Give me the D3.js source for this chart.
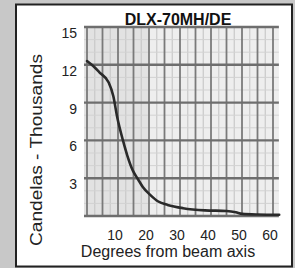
<!DOCTYPE html>
<html>
<head>
<meta charset="utf-8">
<script src="https://cdn.jsdelivr.net/npm/d3@7"></script>
<style>
  body { margin: 0; background: #c8c8c8; }
  svg { display: block; }
</style>
</head>
<body>
<svg></svg>
<script>
// Chart data
const title = "DLX-70MH/DE";
const degrees = [0, 2, 4, 7, 8.5, 9.7, 11.6, 13, 14.8, 16.5, 18, 20.3, 23, 26, 31, 38, 45, 48, 50, 55, 62];
const candelas = [12.3, 11.9, 11.4, 10.6, 9.5, 7.9, 6.0, 4.8, 3.6, 2.9, 2.3, 1.7, 1.15, 0.88, 0.62, 0.45, 0.4, 0.3, 0.17, 0.12, 0.1];
const xTicks = [10, 20, 30, 40, 50, 60];
const yTicks = [3, 6, 9, 12, 15];

const width = 295;
const height = 268;

const svg = d3.select("svg")
    .attr("width", width)
    .attr("height", height);

// Scales
const x = d3.scaleLinear().domain([0, 60]).range([87, 273]);
const y = d3.scaleLinear().domain([0, 15]).range([216, 27]);

// Grey backdrop and white panel
svg.append("rect")
    .attr("width", width)
    .attr("height", height)
    .attr("fill", "#c8c8c8");

svg.append("rect")
    .attr("x", 16)
    .attr("y", 4.5)
    .attr("width", 276)
    .attr("height", 262)
    .attr("fill", "#fff")
    .attr("stroke", "#222")
    .attr("stroke-width", 2);

// Plot paper, a bit darker on the left like the scan
const plotLeft = 84, plotRight = x(61.9);
svg.append("rect")
    .attr("x", plotLeft)
    .attr("y", y(15))
    .attr("width", plotRight - plotLeft)
    .attr("height", y(0) - y(15))
    .attr("fill", "#eeeeee");

svg.append("rect")
    .attr("x", plotLeft)
    .attr("y", y(15))
    .attr("width", x(20) - plotLeft)
    .attr("height", y(0) - y(15))
    .attr("fill", "#e2e2e2");

const grid = svg.append("g");

// faint minor lines
grid.selectAll(".vminor")
    .data(d3.range(2.5, 61, 5))
    .enter().append("line")
    .attr("x1", d => x(d)).attr("x2", d => x(d))
    .attr("y1", y(15)).attr("y2", y(0))
    .attr("stroke", "#c8c8c8")
    .attr("stroke-width", 1.2);

grid.selectAll(".hminor")
    .data(d3.range(1, 15).filter(d => d % 3 !== 0))
    .enter().append("line")
    .attr("x1", plotLeft).attr("x2", plotRight)
    .attr("y1", d => y(d)).attr("y2", d => y(d))
    .attr("stroke", "#d2d2d2")
    .attr("stroke-width", 1);

// main lines
grid.selectAll(".vmajor")
    .data(d3.range(0, 61, 5))
    .enter().append("line")
    .attr("x1", d => x(d)).attr("x2", d => x(d))
    .attr("y1", y(15)).attr("y2", y(0))
    .attr("stroke", "#7a7a7a")
    .attr("stroke-width", 1.8);

grid.selectAll(".hmajor")
    .data(d3.range(0, 16, 3))
    .enter().append("line")
    .attr("x1", plotLeft).attr("x2", plotRight)
    .attr("y1", d => y(d)).attr("y2", d => y(d))
    .attr("stroke", "#6e6e6e")
    .attr("stroke-width", 2.4);

// Candela curve
const line = d3.line()
    .x((d, i) => x(d))
    .y((d, i) => y(candelas[i]))
    .curve(d3.curveMonotoneX);

svg.append("path")
    .datum(degrees)
    .attr("d", line)
    .attr("fill", "none")
    .attr("stroke", "#2a2a2a")
    .attr("stroke-width", 2.6)
    .attr("stroke-linecap", "round");

// Tick labels
const font = "Arial, 'Liberation Sans', sans-serif";

svg.append("g").selectAll("text")
    .data(yTicks)
    .enter().append("text")
    .attr("x", 77)
    .attr("y", d => y(d) + 11)
    .attr("text-anchor", "end")
    .style("font-family", font)
    .style("font-size", "14px")
    .attr("fill", "#222")
    .text(d => d);

svg.append("g").selectAll("text")
    .data(xTicks)
    .enter().append("text")
    .attr("x", d => x(d) - 3)
    .attr("y", 240)
    .attr("text-anchor", "middle")
    .style("font-family", font)
    .style("font-size", "14px")
    .attr("fill", "#222")
    .text(d => d);

// Titles
svg.append("text")
    .attr("x", 178)
    .attr("y", 25)
    .attr("text-anchor", "middle")
    .style("font-family", font)
    .style("font-size", "16px")
    .style("font-weight", "bold")
    .attr("fill", "#111")
    .text(title);

svg.append("text")
    .attr("x", 168)
    .attr("y", 256.5)
    .attr("text-anchor", "middle")
    .style("font-family", font)
    .style("font-size", "16px")
    .attr("fill", "#222")
    .text("Degrees from beam axis");

svg.append("text")
    .attr("transform", "translate(42,150) rotate(-90)")
    .attr("text-anchor", "middle")
    .attr("textLength", 192)
    .attr("lengthAdjust", "spacingAndGlyphs")
    .style("font-family", font)
    .style("font-size", "16px")
    .attr("fill", "#222")
    .text("Candelas - Thousands");
</script>
</body>
</html>
